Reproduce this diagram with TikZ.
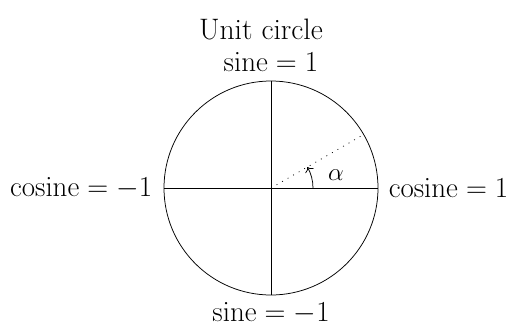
\RequirePackage{fix-cm}
\documentclass[tikz,border=0pt]{standalone}
\usetikzlibrary{arrows.meta}
\begin{document}
\begin{tikzpicture}[x=1pt,y=1pt,line width=0.75pt,
  lbl/.style={font=\fontsize{29}{32}\selectfont, inner sep=0pt},
  dotline/.style={dash pattern=on 0.9pt off 5.5pt}]
\useasboundingbox (-271,-139) rectangle (240,188);
\node[circle, draw, minimum size=214pt, inner sep=0pt] (c) at (0,0) {};
\draw (c.west) -- (c.east);
\draw (c.north) -- (c.south);
\draw[dotline] (c.center) -- (c.30);
\draw[-{To[scale=1.4]}] (42,0) arc (0:30:42);
\node[lbl, font=\fontsize{25}{28}\selectfont] (alpha) at (65,13) {$\alpha$};
\node[lbl, anchor=east] (cl) at ([xshift=-11pt]c.west) {$\mathrm{cosine}=-1$};
\node[lbl, anchor=west] (cr) at ([xshift=10pt]c.east) {$\mathrm{cosine}=1$};
\node[lbl] (st) at (0,126) {$\mathrm{sine}=1$};
\node[lbl] (sb) at (0,-125) {$\mathrm{sine}=-1$};
\node[lbl, font=\fontsize{29.6}{33}\selectfont] (title) at (-10,159) {Unit circle};
\end{tikzpicture}
\end{document}
